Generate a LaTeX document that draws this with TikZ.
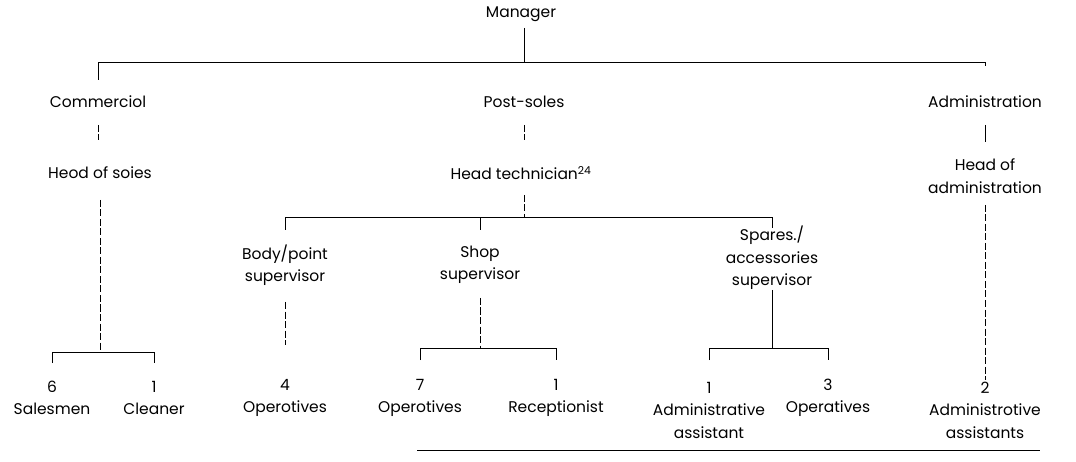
\documentclass[tikz,border=0pt]{standalone}
\usepackage{fontspec}
\setmainfont{Poppins}
\usetikzlibrary{positioning}

\begin{document}
\begin{tikzpicture}[x=1pt, y=1pt, on grid,
		post/.style={rectangle, align=center, inner sep=1pt, font=\fontsize{15.5}{22.5}\selectfont},
		link/.style={line width=1pt},
		dlink/.style={line width=1pt, dash pattern=on 7pt off 2.5pt}
	]
	\useasboundingbox (0,0) rectangle (1076,-462);
	\node[post] (manager) at (521,-14) {Manager};
	\node[post] (commercial) [below left=88pt and 423pt of manager] {Commerciol};
	\node[post] (postsales) [below right=88pt and 3pt of manager] {Post-soles};
	\node[post] (admin) [below right=88pt and 464pt of manager] {Administration};
	\node[post] (headsales) [below right=71pt and 2pt of commercial] {Heod of soies};
	\node[post] (headtech) [below left=71pt and 3pt of postsales] {Head technician\textsuperscript{24}};
	\node[post] (headadmin) [below=74pt of admin] {Head of\\administration};
	\node[post] (bodysup) [below left=92pt and 236pt of headtech] {Body/point\\supervisor};
	\node[post] (shopsup) [below left=92pt and 41pt of headtech] {Shop\\supervisor};
	\node[post] (sparesup) [below right=85pt and 251pt of headtech] {Spares./\\accessories\\supervisor};
	\node[post] (salesmen) [below left=225pt and 48pt of headsales] {6\\Salesmen};
	\node[post] (cleaner) [below right=225pt and 54pt of headsales] {1\\Cleaner};
	\node[post] (bodyops) [below=133pt of bodysup] {4\\Operotives};
	\node[post] (shopops) [below left=133pt and 60pt of shopsup] {7\\Operotives};
	\node[post] (reception) [below right=133pt and 76pt of shopsup] {1\\Receptionist};
	\node[post] (spareadmin) [below left=152pt and 63pt of sparesup] {1\\Administrative\\assistant};
	\node[post] (spareops) [below right=140pt and 56pt of sparesup] {3\\Operatives};
	\node[post] (adminasst) [below=234pt of headadmin] {2\\Administrotive\\assistants};
	% top level
	\draw[link] ([yshift=-14pt]manager.center -| postsales.center) -- ([yshift=39pt]postsales.center);
	\draw[link] ([yshift=22pt]commercial.center) |- ([yshift=39pt]admin.center) -- ([yshift=36pt]admin.center);
	\draw[dlink] ([yshift=-23pt]commercial.center) -- ([yshift=33pt]headsales.center -| commercial.center);
	\draw[dlink] ([yshift=-23pt]postsales.center) -- ([yshift=33pt]headtech.center -| postsales.center);
	\draw[link] ([yshift=-23pt]admin.center) -- ([yshift=34pt]headadmin.center);
	% commercial
	\draw[dlink] ([yshift=-27pt]headsales.center) -- ([yshift=-179pt]headsales.center);
	\draw[link] ([yshift=35pt]salesmen.center) |- ([yshift=46pt]cleaner.center) -- ([yshift=35pt]cleaner.center);
	% post-sales
	\draw[dlink] ([yshift=-22pt]headtech.center -| postsales.center) -- ([yshift=-45pt]headtech.center -| postsales.center);
	\draw[link] ([yshift=35pt]bodysup.center) |- ([yshift=40pt]sparesup.center) -- ([yshift=30pt]sparesup.center);
	\draw[link] ([yshift=35pt]shopsup.center) -- ([yshift=47pt]shopsup.center);
	\draw[dlink] ([yshift=-37pt]bodysup.center) -- ([yshift=53pt]bodyops.center);
	\draw[dlink] ([yshift=-33pt]shopsup.center) -- ([yshift=50pt]shopops.center -| shopsup.center);
	\draw[link] ([yshift=38pt]shopops.center) |- ([yshift=50pt]reception.center) -- ([yshift=38pt]reception.center);
	\draw[link] ([yshift=-32pt]sparesup.center) -- ([yshift=50pt]spareops.center -| sparesup.center);
	\draw[link] ([yshift=50pt]spareadmin.center) |- ([yshift=50pt]spareops.center) -- ([yshift=38pt]spareops.center);
	% administration
	\draw[dlink] ([yshift=-29pt]headadmin.center) -- ([yshift=30pt]adminasst.center);
	% rule under the chart
	\draw[link] (417,-450) -- (1040,-450);
\end{tikzpicture}
\end{document}
